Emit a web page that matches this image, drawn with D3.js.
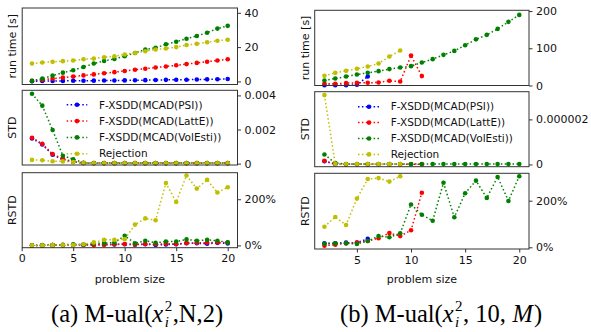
<!DOCTYPE html>
<html><head><meta charset="utf-8">
<script src="https://cdn.jsdelivr.net/npm/d3@7"></script>
<style>body{margin:0;background:#fff} svg{display:block}</style>
</head><body>
<svg id="c" width="591" height="332"></svg>
<script>
// ---------- data: panel (a) ----------
const sizesA = [1,2,3,4,5,6,7,8,9,10,11,12,13,14,15,16,17,18,19,20];
const runA_PSI = [0.1,0.2,0.25,0.3,0.35,0.4,0.45,0.5,0.55,0.6,0.7,0.75,0.8,0.9,0.95,1.0,1.1,1.2,1.3,1.4];
const runA_LattE = [0.3,0.9,1.6,2.2,2.8,3.5,4.1,4.8,5.4,6.1,6.8,7.4,8.1,8.7,9.4,10.1,10.8,11.5,12.2,12.9];
const runA_VolEsti = [0.3,1.6,3.4,5.1,6.5,8.4,10.4,11.9,13.1,14.7,16.6,18.6,19.6,21.6,23.1,24.9,26.5,28.4,30.8,32.4];
const runA_Rejection = [10.4,11.0,11.4,11.8,12.2,12.9,13.3,14.1,14.7,15.7,16.6,17.6,18.6,19.2,20.0,21.2,21.9,22.8,23.7,24.3];
const stdA_PSI = [0.00148,0.00112,0.00052,0.00024,0.0001,0.00003,0.00002,0.00002,0.00002,0.00002,0.00002,0.00002,0.00002,0.00002,0.00002,0.00002,0.00002,0.00002,0.00002,0.00002];
const stdA_LattE = [0.00152,0.00116,0.00056,0.00028,0.00012,0.00004,0.00003,0.00003,0.00003,0.00003,0.00003,0.00003,0.00003,0.00003,0.00003,0.00003,0.00003,0.00003,0.00003,0.00003];
const stdA_VolEsti = [0.0041,0.0034,0.00197,0.00046,0.00026,0.00005,0.00003,0.00003,0.00003,0.00003,0.00003,0.00003,0.00003,0.00003,0.00003,0.00003,0.00003,0.00003,0.00003,0.00003];
const stdA_Rejection = [0.00022,0.0002,0.00014,0.00013,0.0001,0.00004,0.00002,0.00002,0.00002,0.00002,0.00002,0.00002,0.00002,0.00002,0.00002,0.00002,0.00002,0.00002,0.00002,0.00002];
const rstdA_PSI = [0,0,1,1,2,2,3,4,4,5,3,5,2,4,5,9,9,7,11,8];
const rstdA_LattE = [0,0,1,1,2,3,1,2,5,6,4,6,5,7,6,10,11,12,13,12];
const rstdA_VolEsti = [0,1,2,3,5,4,8,10,12,42,9,20,11,17,17,26,20,24,20,13];
const rstdA_Rejection = [0,0,1,2,2,5,13,24,24,27,90,117,109,270,188,303,246,284,229,252];

// ---------- data: panel (b) ----------
const sizesB_PSI = [2,3,4,5,6];
const sizesB_LattE = [2,3,4,5,6,7,8,9,10,11];
const sizesB_VolEsti = [2,3,4,5,6,7,8,9,10,11,12,13,14,15,16,17,18,19,20];
const sizesB_Rejection = [2,3,4,5,6,7,8,9];
const runB_PSI = [1,1,1,2,24];
const runB_LattE = [4.6,4.6,6.4,7.2,7.2,8,12.6,10.7,80.4,25.2];
const runB_VolEsti = [13.4,18.8,24,29.5,34,38.6,44,48.3,52,61.7,70.8,82.3,93,108,124,136,152,171,189.6];
const runB_Rejection = [26,34,39.4,44.8,51,59,77.7,94];
const stdB_PSI = [0.14e-6,0.01e-6,0.005e-6,0.005e-6,0.005e-6];
const stdB_LattE = [0.16e-6,0.02e-6,0.01e-6,0.01e-6,0.01e-6,0.01e-6,0.01e-6,0.01e-6,0.01e-6,0.01e-6];
const stdB_VolEsti = [0.44e-6,0.06e-6,0.02e-6,0.02e-6,0.02e-6,0.02e-6,0.02e-6,0.02e-6,0.02e-6,0.02e-6,0.02e-6,0.02e-6,0.02e-6,0.02e-6,0.02e-6,0.02e-6,0.02e-6,0.02e-6,0.02e-6];
const stdB_Rejection = [3.08e-6,0.02e-6,0.02e-6,0.02e-6,0.02e-6,0.02e-6,0.02e-6,0.02e-6];
const rstdB_PSI = [17,17,20,20,36];
const rstdB_LattE = [7,11,17,20,27,39,61,48,73,234];
const rstdB_VolEsti = [15,17,17,14,27,48,43,60,184,140,114,277,129,232,286,212,302,199,305];
const rstdB_Rejection = [88,130,96,209,293,297,282,305];

const seriesNames = ["F-XSDD(MCAD(PSI))","F-XSDD(MCAD(LattE))","F-XSDD(MCAD(VolEsti))","Rejection"];
const seriesColors = ["#0000ff","#ff0000","#008000","#bfbf00"];
const rowLabels = ["run time [s]","STD","RSTD"];
const xTicksA = [0,5,10,15,20];
const xTicksB = [5,10,15,20];
const yTicksA = [[0,20,40],[0,0.002,0.004],[0,200]];
const yTicksB = [[0,100,200],[0,0.000002],[0,200]];
const captionA = {pre:"(a) M-ual(", post:",N,2)"};
const captionB = {pre:"(b) M-ual(", post:", 10,", postItalic:"M", end:")"};

// ---------- layout ----------
const panels = [
  { x0:22.2, x1:237.5, xdom:[0.05,20.95], xticks:xTicksA, ylabX:12,
    rows:[{y0:8,y1:84.5,dom:[-1.8,42.8]},{y0:90.3,y1:165,dom:[-0.00008,0.0043]},{y0:172.7,y1:247.7,dom:[-10,315]}],
    yticks:yTicksA, fmts:[d=>String(d), d=>d===0?"0":d.toFixed(3), d=>d+"%"],
    legend:{lx0:66.7,lx1:87.3,tx:99,y0:104.8,dy:16.3},
    series:[
      {x:sizesA, run:runA_PSI, std:stdA_PSI, rstd:rstdA_PSI},
      {x:sizesA, run:runA_LattE, std:stdA_LattE, rstd:rstdA_LattE},
      {x:sizesA, run:runA_VolEsti, std:stdA_VolEsti, rstd:rstdA_VolEsti},
      {x:sizesA, run:runA_Rejection, std:stdA_Rejection, rstd:rstdA_Rejection}],
    caption:captionA, capX:51 },
  { x0:314.7, x1:529, xdom:[1.1,20.9], xticks:xTicksB, ylabX:304.5,
    rows:[{y0:10.3,y1:85.5,dom:[0,202]},{y0:91.7,y1:166.7,dom:[-0.1e-6,3.23e-6]},{y0:173.3,y1:249,dom:[-7.3,317.6]}],
    yticks:yTicksB, fmts:[d=>String(d), d=>d===0?"0":d.toFixed(6), d=>d+"%"],
    legend:{lx0:358,lx1:380,tx:390.7,y0:106.7,dy:15.9},
    series:[
      {x:sizesB_PSI, run:runB_PSI, std:stdB_PSI, rstd:rstdB_PSI},
      {x:sizesB_LattE, run:runB_LattE, std:stdB_LattE, rstd:rstdB_LattE},
      {x:sizesB_VolEsti, run:runB_VolEsti, std:stdB_VolEsti, rstd:rstdB_VolEsti},
      {x:sizesB_Rejection, run:runB_Rejection, std:stdB_Rejection, rstd:rstdB_Rejection}],
    caption:captionB, capX:340 }
];

const svg = d3.select("#c");
const FONT = "DejaVu Sans, sans-serif";
const R = 2.3, DASH = "1.5,2.4", LW = 1.5;
const keys = ["run","std","rstd"];

panels.forEach(p => {
  const x = d3.scaleLinear().domain(p.xdom).range([p.x0, p.x1]);
  p.rows.forEach((row, ri) => {
    const y = d3.scaleLinear().domain(row.dom).range([row.y1, row.y0]);
    const g = svg.append("g");
    p.series.forEach((s, si) => {
      const vals = s[keys[ri]];
      const pts = s.x.map((xv, i) => [xv, vals[i]]);
      g.append("path").datum(pts)
        .attr("d", d3.line().x(d => x(d[0])).y(d => y(d[1])))
        .attr("fill","none").attr("stroke", seriesColors[si])
        .attr("stroke-width", LW).attr("stroke-dasharray", DASH);
      g.selectAll(null).data(pts).join("circle")
        .attr("cx", d => x(d[0])).attr("cy", d => y(d[1])).attr("r", R)
        .attr("fill", seriesColors[si]);
    });
    g.append("rect").attr("x", p.x0).attr("y", row.y0)
      .attr("width", p.x1 - p.x0).attr("height", row.y1 - row.y0)
      .attr("fill","none").attr("stroke","#333").attr("stroke-width",1);
    const ax = g.append("g").attr("transform", `translate(${p.x1},0)`)
      .call(d3.axisRight(y).tickValues(p.yticks[ri]).tickFormat(p.fmts[ri]).tickSize(3.5).tickPadding(3.5));
    ax.select(".domain").remove();
    ax.selectAll("line").attr("stroke","#333");
    ax.selectAll("text").attr("font-family", FONT).attr("font-size", 11).attr("fill","#111");
    svg.append("text").attr("transform", `translate(${p.ylabX + 4},${(row.y0+row.y1)/2}) rotate(-90)`)
      .attr("text-anchor","middle").attr("font-family",FONT).attr("font-size",11).attr("fill","#111")
      .text(rowLabels[ri]);
    if (ri === 2) {
      const xa = g.append("g").attr("transform", `translate(0,${row.y1})`)
        .call(d3.axisBottom(x).tickValues(p.xticks).tickFormat(d3.format("d")).tickSize(3.5).tickPadding(3.5));
      xa.select(".domain").remove();
      xa.selectAll("line").attr("stroke","#333");
      xa.selectAll("text").attr("font-family", FONT).attr("font-size", 11).attr("fill","#111");
      svg.append("text").attr("x",(p.x0+p.x1)/2).attr("y",283)
        .attr("text-anchor","middle").attr("font-family",FONT).attr("font-size",11).attr("fill","#111")
        .text("problem size");
    }
    if (ri === 1) {
      const L = p.legend;
      seriesNames.forEach((name, si) => {
        const yy = L.y0 + si * L.dy;
        g.append("line").attr("x1", L.lx0).attr("x2", L.lx1).attr("y1", yy).attr("y2", yy)
          .attr("stroke", seriesColors[si]).attr("stroke-width", LW).attr("stroke-dasharray", DASH);
        g.append("circle").attr("cx",(L.lx0+L.lx1)/2).attr("cy",yy).attr("r",R).attr("fill",seriesColors[si]);
        g.append("text").attr("x", L.tx).attr("y", yy).attr("dy","0.36em")
          .attr("font-family",FONT).attr("font-size",10.5).attr("fill","#111").text(name);
      });
    }
  });

  // caption (sub/superscript stacked after italic x)
  const cap = svg.append("g");
  const SER = "Liberation Serif, Times New Roman, serif";
  const base = 322, FS = 24.5;
  let cx = 0;
  const t1 = cap.append("text").attr("x",cx).attr("y",base).attr("font-family",SER).attr("font-size",FS).text(p.caption.pre);
  cx += t1.node().getComputedTextLength();
  const tx = cap.append("text").attr("x",cx).attr("y",base).attr("font-family",SER).attr("font-size",FS).attr("font-style","italic").text("x");
  cx += tx.node().getComputedTextLength() + 1.5;
  const sup = cap.append("text").attr("x",cx).attr("y",base-11).attr("font-family",SER).attr("font-size",15).text("2");
  const sub = cap.append("text").attr("x",cx).attr("y",base+5).attr("font-family",SER).attr("font-size",15).attr("font-style","italic").text("i");
  cx += Math.max(sup.node().getComputedTextLength(), sub.node().getComputedTextLength()) + 0.5;
  const t2 = cap.append("text").attr("x",cx).attr("y",base).attr("font-family",SER).attr("font-size",FS).text(p.caption.post);
  cx += t2.node().getComputedTextLength();
  if (p.caption.postItalic) {
    cx += FS * 0.27;
    const t3 = cap.append("text").attr("x",cx).attr("y",base).attr("font-family",SER).attr("font-size",FS).attr("font-style","italic").text(p.caption.postItalic);
    cx += t3.node().getComputedTextLength() + 1;
    cap.append("text").attr("x",cx).attr("y",base).attr("font-family",SER).attr("font-size",FS).text(p.caption.end);
  }
  cap.attr("transform", `translate(${p.capX},0)`);
});
</script>
</body></html>
